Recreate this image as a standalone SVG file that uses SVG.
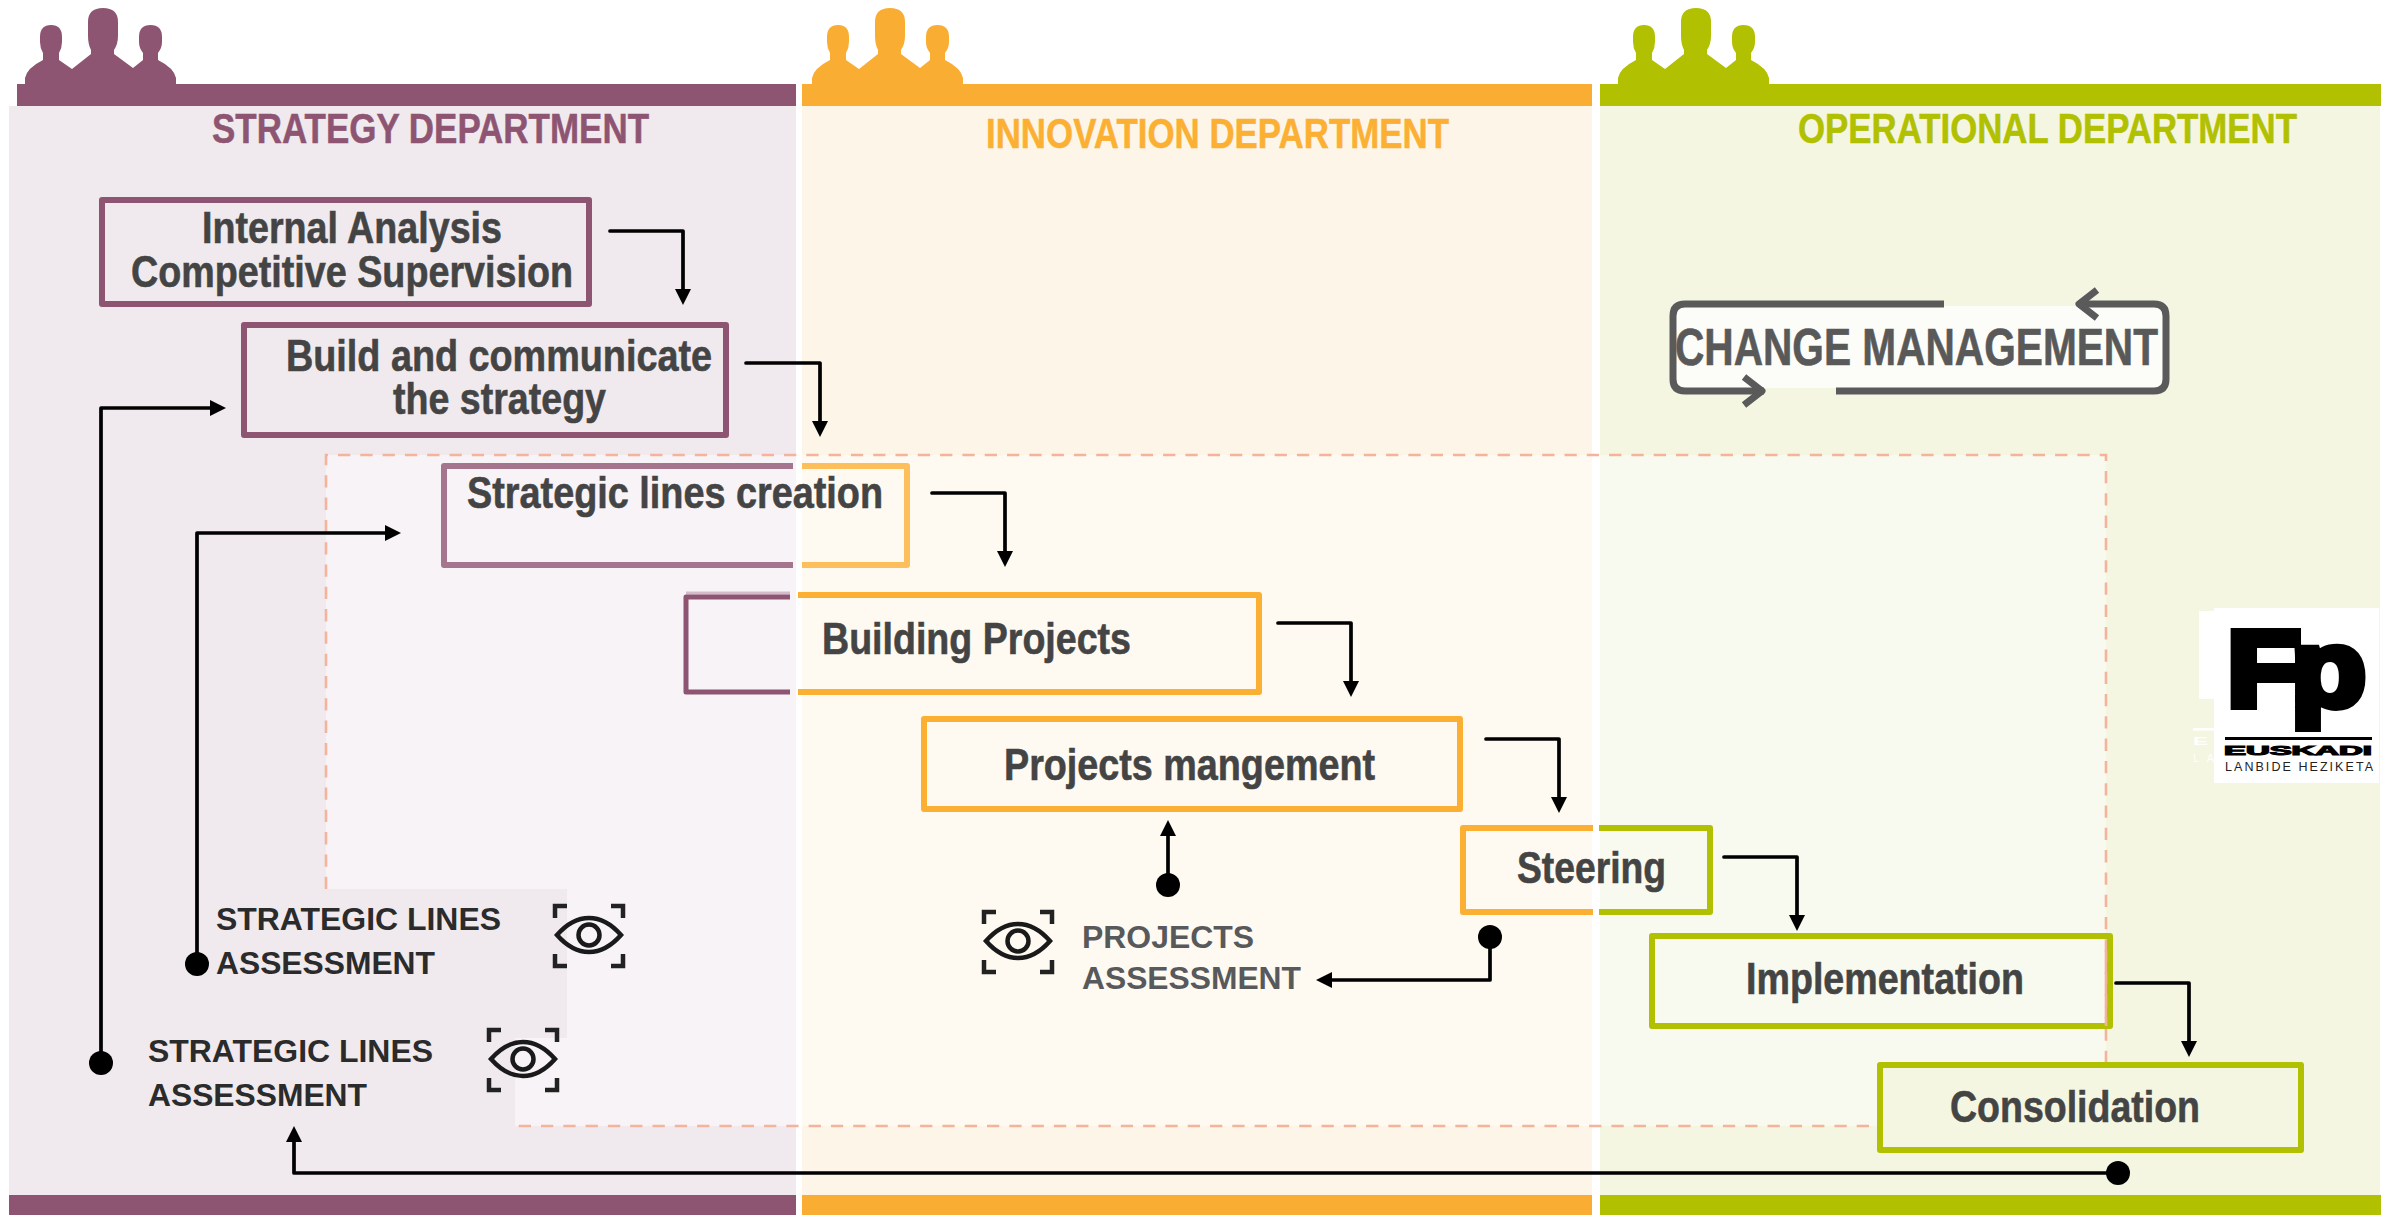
<svg xmlns="http://www.w3.org/2000/svg" xmlns:xlink="http://www.w3.org/1999/xlink" width="2400" height="1215" viewBox="0 0 2400 1215">
<style>
text{font-family:"Liberation Sans",Arial,sans-serif;font-weight:700}
.box{fill:none;stroke-width:6;stroke-linejoin:round}
.pu{stroke:#8e5572}.or{stroke:#fbb034}.gr{stroke:#b1c000}
.faded{stroke-opacity:.8}
.bt{font-size:44px;fill:#444;stroke:#444;stroke-width:.6px}
.hd{font-size:42px;stroke-width:.5px}
.lab{font-size:31px;fill:#2b2b2b}
.lab2{font-size:31px;fill:#58595b}
.con{fill:none;stroke:#000;stroke-width:3.7;stroke-linejoin:round;stroke-linecap:round}
.chg{fill:none;stroke:#5a5a5a;stroke-width:7;stroke-linejoin:round;stroke-linecap:butt}
.dash{fill:none;stroke:#f3b49b;stroke-width:2.600;stroke-dasharray:12.300 10}
</style>
<defs>
<marker id="arr" viewBox="0 0 16 16" markerWidth="16" markerHeight="16" refX="6" refY="8" orient="auto" markerUnits="userSpaceOnUse"><path d="M0 0L16 8L0 16Z" fill="#000"/></marker>
<marker id="dot" viewBox="0 0 24 24" markerWidth="24" markerHeight="24" refX="12" refY="12" markerUnits="userSpaceOnUse"><circle cx="12" cy="12" r="12" fill="#000"/></marker>
<path id="people" d="M25 90V78Q27 68 43 60V53Q40 48 40 42V37Q40 25 51 25Q62 25 62 37V42Q62 48 59 53V60L72 69L91 54V50Q88 44 88 36V22Q88 8 103 8Q118 8 118 22V36Q118 44 114 50V54L133 68L143 60V53Q139 48 139 42V37Q139 25 150.500 25Q162 25 162 37V42Q162 48 158 53V60Q174 68 176 78V90Z"/>
<g id="eye">
<path d="M4 31Q19 14 36 14Q53 14 68 31Q53 48 36 48Q19 48 4 31Z" fill="none" stroke="#1a1a1a" stroke-width="4.500"/>
<circle cx="36" cy="31" r="10.500" fill="none" stroke="#1a1a1a" stroke-width="4.500"/>
<path d="M2 14V2H14M58 2H70V14M70 50V62H58M14 62H2V50" fill="none" stroke="#222" stroke-width="4.500"/>
</g>
</defs>
<rect width="2400" height="1215" fill="#fff"/>
<g id="strategy-department">
<rect x="9" y="106" width="787" height="1089" fill="#f0eaee"/>
<use href="#people" fill="#8e5572"/>
<rect x="17" y="84" width="779" height="22" fill="#8e5572"/>
<rect x="9" y="1195" width="787" height="20" fill="#8e5572"/>
<text x="212" y="143" class="hd" fill="#8e5572" stroke="#8e5572" textLength="437" lengthAdjust="spacingAndGlyphs">STRATEGY DEPARTMENT</text>
</g>
<g id="innovation-department">
<rect x="802" y="106" width="790" height="1089" fill="#fdf6e8"/>
<use href="#people" x="787" fill="#f9ae33"/>
<rect x="802" y="84" width="790" height="22" fill="#f9ae33"/>
<rect x="802" y="1195" width="790" height="20" fill="#f9ae33"/>
<text x="986" y="148" class="hd" fill="#fbb034" stroke="#fbb034" textLength="463" lengthAdjust="spacingAndGlyphs">INNOVATION DEPARTMENT</text>
</g>
<g id="operational-department">
<rect x="1600" y="106" width="780" height="1089" fill="#f4f6e2"/>
<use href="#people" x="1593" fill="#b1c000"/>
<rect x="1600" y="84" width="781" height="22" fill="#b1c000"/>
<rect x="1600" y="1195" width="781" height="20" fill="#b1c000"/>
<text x="1798" y="143" class="hd" fill="#b1c000" stroke="#b1c000" textLength="499" lengthAdjust="spacingAndGlyphs">OPERATIONAL DEPARTMENT</text>
</g>
<g id="logo">
<rect x="2214" y="608" width="165" height="175" fill="#fff"/>
<rect x="2199" y="611" width="15" height="88" fill="#fff"/>
<rect x="2193" y="728" width="21" height="2.500" fill="#fff"/>
<text x="2193" y="745" font-size="10" fill="#fff" textLength="15" lengthAdjust="spacingAndGlyphs">E</text>
<text x="2193" y="762" font-size="11" fill="#fff" style="font-weight:400" textLength="21" lengthAdjust="spacing">LA</text>
<text x="2227" y="706" font-size="108" fill="#000" stroke="#000" stroke-width="8" textLength="74" lengthAdjust="spacingAndGlyphs">F</text>
<text x="2291" y="706" font-size="108" fill="#000" stroke="#000" stroke-width="8" textLength="75" lengthAdjust="spacingAndGlyphs">p</text>
<rect x="2225" y="737" width="147" height="3" fill="#000"/>
<text x="2224" y="754.500" font-size="12" fill="#000" stroke="#000" stroke-width="1" textLength="148" lengthAdjust="spacingAndGlyphs">EUSKADI</text>
<text x="2225" y="770.500" font-size="12.500" fill="#222" style="font-weight:400" textLength="148" lengthAdjust="spacing">LANBIDE HEZIKETA</text>
</g>
<g id="scope-frame">
<rect x="326" y="455" width="1780" height="671" fill="#fff" fill-opacity=".45"/>
<path class="dash" d="M326 889V455H2106V1126H326"/>
<path d="M323 889H567V1038H515V1129H323Z" fill="#f0eaee"/>
</g>
<g id="internal-analysis">
<rect class="box pu" x="102" y="200" width="487" height="104"/>
<text class="bt" x="202" y="243" textLength="300" lengthAdjust="spacingAndGlyphs">Internal Analysis</text>
<text class="bt" x="131" y="287" textLength="442" lengthAdjust="spacingAndGlyphs">Competitive Supervision</text>
</g>
<g id="build-communicate">
<rect class="box pu" x="244" y="325" width="482" height="110"/>
<text class="bt" x="286" y="371" textLength="426" lengthAdjust="spacingAndGlyphs">Build and communicate</text>
<text class="bt" x="393" y="414" textLength="213" lengthAdjust="spacingAndGlyphs">the strategy</text>
</g>
<g id="strategic-lines-creation">
<path class="box pu faded" d="M793 466H444V565H793"/>
<path class="box or faded" d="M802 466H907V565H802"/>
<text class="bt" x="467" y="508" textLength="416" lengthAdjust="spacingAndGlyphs">Strategic lines creation</text>
</g>
<g id="building-projects">
<path class="box pu" d="M790 692H686V597H790" style="stroke-width:5"/>
<path class="box pu faded" d="M686 593H790" style="stroke-width:3;stroke-opacity:.35"/>
<path class="box or" d="M798 595H1259V692H798"/>
<text class="bt" x="822" y="654" textLength="309" lengthAdjust="spacingAndGlyphs">Building Projects</text>
</g>
<g id="projects-management">
<rect class="box or" x="924" y="719" width="536" height="90"/>
<text class="bt" x="1004" y="780" textLength="371" lengthAdjust="spacingAndGlyphs">Projects mangement</text>
</g>
<g id="steering">
<path class="box or" d="M1593 828H1463V912H1593"/>
<path class="box gr" d="M1599 828H1710V912H1599"/>
<text class="bt" x="1517" y="883" textLength="149" lengthAdjust="spacingAndGlyphs">Steering</text>
</g>
<g id="implementation">
<rect class="box gr" x="1652" y="936" width="458" height="90"/>
<text class="bt" x="1746" y="994" textLength="278" lengthAdjust="spacingAndGlyphs">Implementation</text>
<path class="dash" d="M2106 950V1026"/>
</g>
<g id="consolidation">
<rect class="box gr" x="1880" y="1065" width="421" height="85" style="fill:#f4f6e2"/>
<text class="bt" x="1950" y="1122" textLength="250" lengthAdjust="spacingAndGlyphs">Consolidation</text>
</g>
<g id="change-management">
<path d="M1676 306H2163V388H1676Z" fill="#fcfdf8"/>
<path d="M1944 304H1685Q1673 304 1673 316V379Q1673 391 1685 391H1764" class="chg"/>
<path d="M2078 304H2154Q2166 304 2166 316V379Q2166 391 2154 391H1836" class="chg"/>
<path d="M2097 290L2079 304L2097 318" class="chg"/>
<path d="M1744 377L1762 391L1744 405" class="chg"/>
<text x="1675" y="365" font-size="51" fill="#595959" stroke="#595959" stroke-width=".6" textLength="483" lengthAdjust="spacingAndGlyphs">CHANGE MANAGEMENT</text>
</g>
<g id="strategic-assessment-1">
<text class="lab" x="216" y="930" textLength="285" lengthAdjust="spacingAndGlyphs">STRATEGIC LINES</text>
<text class="lab" x="216" y="974" textLength="219" lengthAdjust="spacingAndGlyphs">ASSESSMENT</text>
<use href="#eye" x="553" y="904"/>
</g>
<g id="strategic-assessment-2">
<text class="lab" x="148" y="1062" textLength="285" lengthAdjust="spacingAndGlyphs">STRATEGIC LINES</text>
<text class="lab" x="148" y="1106" textLength="219" lengthAdjust="spacingAndGlyphs">ASSESSMENT</text>
<use href="#eye" x="487" y="1028"/>
</g>
<g id="projects-assessment">
<text class="lab2" x="1082" y="948" textLength="172" lengthAdjust="spacingAndGlyphs">PROJECTS</text>
<text class="lab2" x="1082" y="989" textLength="219" lengthAdjust="spacingAndGlyphs">ASSESSMENT</text>
<use href="#eye" x="982" y="910"/>
</g>
<g id="connectors">
<path class="con" marker-end="url(#arr)" d="M610 231H683V295"/>
<path class="con" marker-end="url(#arr)" d="M746 363H820V427"/>
<path class="con" marker-end="url(#arr)" d="M932 493H1005V557"/>
<path class="con" marker-end="url(#arr)" d="M1278 623H1351V687"/>
<path class="con" marker-end="url(#arr)" d="M1486 739H1559V803"/>
<path class="con" marker-end="url(#arr)" d="M1724 857H1797V921"/>
<path class="con" marker-end="url(#arr)" d="M2116 983H2189V1047"/>
<path class="con" marker-start="url(#dot)" marker-end="url(#arr)" d="M101 1063V408H216"/>
<path class="con" marker-start="url(#dot)" marker-end="url(#arr)" d="M197 964V533H391"/>
<path class="con" marker-start="url(#dot)" marker-end="url(#arr)" d="M2118 1173H294V1136"/>
<path class="con" marker-start="url(#dot)" marker-end="url(#arr)" d="M1168 885V830"/>
<path class="con" marker-start="url(#dot)" marker-end="url(#arr)" d="M1490 937V980H1326"/>
</g>
</svg>
